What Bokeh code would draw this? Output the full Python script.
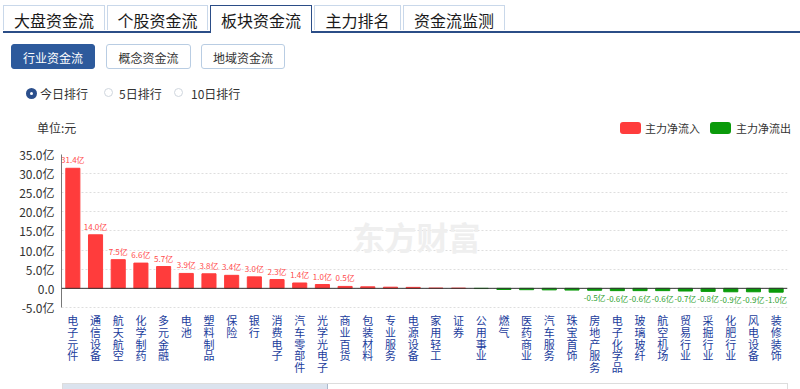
from bokeh.plotting import figure
from bokeh.models import (ColumnDataSource, FactorRange, Range1d, FixedTicker, Span,
                          Label, Div)
from bokeh.layouts import column
from bokeh.core.properties import value
from bokeh.embed import file_html
from bokeh.resources import INLINE

# ---------------- data ----------------
sectors = ["电子元件", "通信设备", "航天航空", "化学制药", "多元金融", "电池", "塑料制品",
           "保险", "银行", "消费电子", "汽车零部件", "光学光电子", "商业百货", "包装材料",
           "专业服务", "电源设备", "家用轻工", "证券", "公用事业", "燃气", "医药商业",
           "汽车服务", "珠宝首饰", "房地产服务", "电子化学品", "玻璃玻纤", "航空机场",
           "贸易行业", "采掘行业", "化肥行业", "风电设备", "装修装饰"]
net_flow = [31.4, 14.0, 7.5, 6.6, 5.7, 3.9, 3.8, 3.4, 3.0, 2.3, 1.4, 1.0, 0.5, 0.4,
            0.3, 0.25, 0.05, 0.03, -0.05, -0.3, -0.35, -0.4, -0.45, -0.5, -0.6, -0.6,
            -0.6, -0.7, -0.8, -0.9, -0.9, -1.0]
y_ticks = [-5, 0, 5, 10, 15, 20, 25, 30, 35]
y_tick_labels = ["-5.0亿", "0.0", "5.0亿", "10.0亿", "15.0亿", "20.0亿", "25.0亿", "30.0亿", "35.0亿"]
tabs = ["大盘资金流", "个股资金流", "板块资金流", "主力排名", "资金流监测"]
sub_tabs = ["行业资金流", "概念资金流", "地域资金流"]
ranks = ["今日排行", "5日排行", "10日排行"]
legend_labels = ["主力净流入", "主力净流出"]
unit_text = "单位:元"
watermark = "东方财富"
label_threshold = 0.5
y_floor = -24.1   # room below the -5 line for the stacked category names

FONT = "Noto Sans CJK SC"
RED = "#ff3c3c"
GREEN = "#0a9a0a"
RED_TXT = "#ff4a4a"
GREEN_TXT = "#2f9f2f"
DARK_BLUE = "#2b4d87"

# ---------------- header (tabs / buttons / radios / unit / legend) ----------------
tab_geom = [(3, 104), (107, 103), (210, 104), (314, 89), (403, 104)]
parts = ['<div style="position:relative;width:800px;height:140px;font-family:\'Noto Sans CJK SC\';'
         'background:#fff;margin:0;padding:0;">']
parts.append(f'<div style="position:absolute;left:3px;top:31px;width:797px;height:2px;background:{DARK_BLUE};"></div>')
for i, (name, (lx, w)) in enumerate(zip(tabs, tab_geom)):
    if i == 2:
        style = (f"left:{lx}px;top:5px;width:{w-2}px;height:28px;border:1px solid {DARK_BLUE};"
                 "border-bottom:none;background:#fff;")
    else:
        style = (f"left:{lx}px;top:5px;width:{w-2}px;height:25px;border:1px solid #c9d8ea;"
                 "border-bottom:none;background:#fff;")
    parts.append(f'<div style="position:absolute;{style}font-size:16px;color:#1a1a1a;'
                 f'text-align:center;line-height:28px;">{name}</div>')
btn_geom = [(11, 86), (106, 87), (201, 86)]
for i, (name, (lx, w)) in enumerate(zip(sub_tabs, btn_geom)):
    if i == 0:
        st = "background:#2d5a9c;color:#fff;border:1px solid #2d5a9c;"
    else:
        st = "background:#fff;color:#333;border:1px solid #b9cde3;"
    parts.append(f'<div style="position:absolute;left:{lx}px;top:44px;width:{w-2}px;height:25px;'
                 f'{st}border-radius:3px;font-size:12px;text-align:center;line-height:25px;">{name}</div>')
radio_geom = [(26, 40), (104, 119), (174, 191)]
for i, (name, (cx, tx)) in enumerate(zip(ranks, radio_geom)):
    if i == 0:
        parts.append(f'<div style="position:absolute;left:{cx}px;top:88px;width:11px;height:11px;'
                     f'border-radius:50%;background:#2b4f8c;"></div>')
        parts.append(f'<div style="position:absolute;left:{cx+4}px;top:92px;width:3px;height:3px;'
                     f'border-radius:50%;background:#fff;"></div>')
    else:
        parts.append(f'<div style="position:absolute;left:{cx}px;top:88px;width:9px;height:9px;'
                     f'border-radius:50%;border:1px solid #cfd6de;background:#fff;"></div>')
    parts.append(f'<div style="position:absolute;left:{tx}px;top:85px;font-size:12px;color:#333;'
                 f'line-height:17px;">{name}</div>')
parts.append(f'<div style="position:absolute;left:37px;top:119px;font-size:12px;color:#333;'
             f'line-height:18px;">{unit_text}</div>')
for (name, color, sx, tx) in zip(legend_labels, [RED, GREEN], [620, 710], [645, 736]):
    parts.append(f'<div style="position:absolute;left:{sx}px;top:122px;width:21px;height:12px;'
                 f'border-radius:3px;background:{color};"></div>')
    parts.append(f'<div style="position:absolute;left:{tx}px;top:119px;font-size:11px;color:#333;'
                 f'line-height:18px;">{name}</div>')
parts.append('</div>')
header = Div(text="".join(parts), width=800, height=140, margin=0)

# ---------------- chart ----------------
pos_x = [s for s, v in zip(sectors, net_flow) if v >= 0]
pos_v = [v for v in net_flow if v >= 0]
neg_x = [s for s, v in zip(sectors, net_flow) if v < 0]
neg_v = [v for v in net_flow if v < 0]
src_pos = ColumnDataSource(dict(x=pos_x, top=pos_v))
src_neg = ColumnDataSource(dict(x=neg_x, top=neg_v))
lbl_pos = ColumnDataSource(dict(x=[s for s, v in zip(pos_x, pos_v) if v >= label_threshold],
                                y=[v for v in pos_v if v >= label_threshold],
                                t=[f"{v:.1f}亿" for v in pos_v if v >= label_threshold]))
lbl_neg = ColumnDataSource(dict(x=[s for s, v in zip(neg_x, neg_v) if v <= -label_threshold],
                                y=[v for v in neg_v if v <= -label_threshold],
                                t=[f"{v:.1f}亿" for v in neg_v if v <= -label_threshold]))
cat_src = ColumnDataSource(dict(x=sectors, y=[y_ticks[0]] * len(sectors),
                                t=["\n".join(s) for s in sectors]))

p = figure(x_range=FactorRange(*sectors, range_padding=0), y_range=Range1d(y_floor, y_ticks[-1]),
           width=800, height=240, output_backend="svg", toolbar_location=None,
           min_border_left=61, min_border_right=13, min_border_top=14, min_border_bottom=0)
p.outline_line_color = None
p.background_fill_color = "#ffffff"
p.border_fill_color = "#ffffff"

wm = Label(x=291, y=145, x_units="screen", y_units="screen", text=watermark,
           text_font=FONT, text_font_size="32px", text_font_style="bold",
           text_color="#efefef", text_baseline="middle", level="underlay")
p.add_layout(wm)

r_pos = p.vbar(x="x", top="top", bottom=0, width=0.62, source=src_pos, color=RED,
               legend_label=legend_labels[0])
r_neg = p.vbar(x="x", top="top", bottom=0, width=0.62, source=src_neg, color=GREEN,
               legend_label=legend_labels[1])
p.legend.visible = False
p.text(x="x", y="y", text="t", source=lbl_pos, text_align="center", text_baseline="bottom",
       y_offset=-3, text_font=value(FONT), text_font_size="8px", text_color=RED_TXT)
p.text(x="x", y="y", text="t", source=lbl_neg, text_align="center", text_baseline="top",
       y_offset=2, text_font=value(FONT), text_font_size="8px", text_color=GREEN_TXT)
p.text(x="x", y="y", text="t", source=cat_src, text_align="center", text_baseline="top",
       y_offset=5, text_font=value(FONT), text_font_size="11px", text_line_height=0.73,
       text_color="#1a3c9c")

p.add_layout(Span(location=0, dimension="width", line_color="#333333", line_width=1))

p.xaxis.visible = False
p.xgrid.visible = False
p.ygrid.grid_line_color = "#dedede"
p.ygrid.grid_line_dash = "2 2"

p.yaxis.ticker = FixedTicker(ticks=y_ticks)
p.yaxis.bounds = (y_ticks[0], y_ticks[-1])
p.yaxis.major_label_overrides = dict(zip(y_ticks, y_tick_labels))
p.yaxis.major_tick_line_color = None
p.yaxis.minor_tick_line_color = None
p.yaxis.major_tick_out = 0
p.yaxis.axis_line_color = "#777777"
p.yaxis.major_label_standoff = 7
p.yaxis.major_label_text_font = FONT
p.yaxis.major_label_text_font_size = "12px"
p.yaxis.major_label_text_color = "#333333"

# ---------------- data-zoom strip ----------------
slider = Div(text=('<div style="position:relative;width:800px;height:9px;overflow:hidden;">'
                   '<div style="position:absolute;left:62px;top:0;width:726px;height:12px;'
                   'border:1px solid #dddddd;background:#fff;"></div>'
                   '<div style="position:absolute;left:63px;top:1px;width:265px;height:12px;'
                   'background:#dbe3ee;border-right:1px solid #aab8cc;"></div></div>'),
             width=800, height=9, margin=0)

layout = column(header, p, slider, spacing=0,
                styles={"position": "absolute", "left": "0px", "top": "0px"})

with open("out.html", "w") as f:
    f.write(file_html(layout, INLINE))
